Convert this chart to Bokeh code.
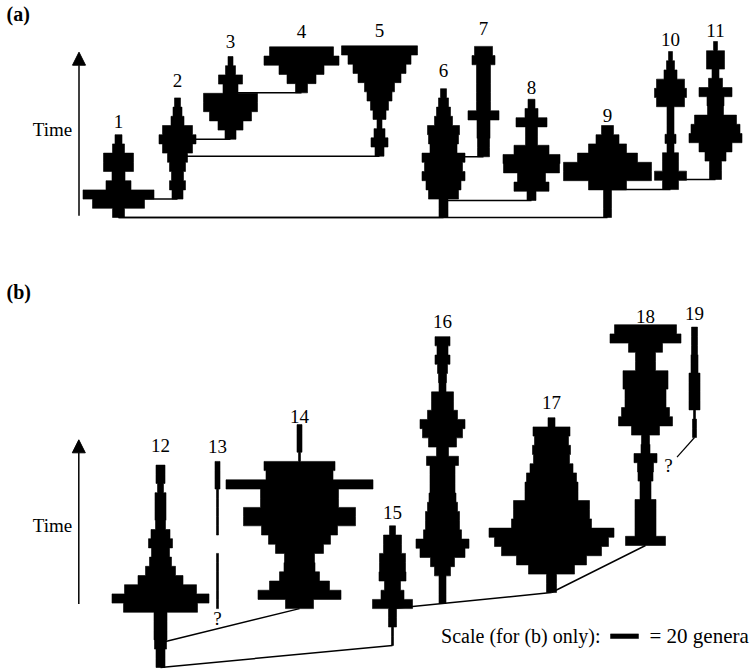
from bokeh.plotting import figure
from bokeh.layouts import column
from bokeh.models import Range1d, Arrow, NormalHead
from bokeh.core.properties import value
from bokeh.embed import file_html
from bokeh.resources import INLINE

FONT = value("Liberation Serif")

# ---------------- Panel (a): clade widths per time step (oldest -> youngest) -------------
clade_1 = [12, 52, 71, 25, 13, 30, 30, 12, 7]
clade_2 = [11, 16, 12, 16, 20, 30, 37, 30, 13, 9, 6]
clade_3 = [11, 25, 42, 54, 54, 15, 24, 10, 5]
clade_4 = [12, 29, 45, 75, 64]
clade_5 = [9, 17, 11, 5, 13, 18, 25, 30, 43, 53, 63, 76]
clade_6 = [9, 9, 30, 35, 43, 38, 43, 27, 30, 32, 18, 14, 10, 6]
clade_7 = [12, 12, 13, 13, 31, 14, 14, 14, 14, 14, 23, 18]
clade_8 = [9, 35, 28, 56, 57, 35, 12, 12, 31, 13, 7]
clade_9 = [8, 8, 8, 38, 88, 88, 60, 38, 23, 12]
clade_10 = [16, 32, 16, 16, 7, 11, 7, 7, 7, 28, 32, 28, 13, 8, 4]
clade_11 = [12, 12, 21, 33, 53, 49, 42, 16, 17, 33, 14, 7, 18, 18, 4]

a_names = ["1", "2", "3", "4", "5", "6", "7", "8", "9", "10", "11"]
a_widths = [clade_1, clade_2, clade_3, clade_4, clade_5, clade_6,
            clade_7, clade_8, clade_9, clade_10, clade_11]
a_start = [0, 2.0, 8.5, 13.55, 6.66, 0, 6.6, 1.85, 0, 3.04, 4.13]
# layout: horizontal position of each spindle and gap of its label above the top
a_x = [118, 177, 230, 301, 379, 443, 483, 531, 607, 670, 715]
a_label_gap = [1.4, 1.85, 1.65, 1.65, 1.65, 1.95, 1.95, 1.3, 1.1, 1.3, 1.2]
# branching: (parent, child); drawn at the child's origin time
a_links = [("1", "6"), ("1", "9"), ("1", "2"), ("2", "3"), ("2", "5"), ("3", "4"),
           ("6", "7"), ("6", "8"), ("9", "10"), ("10", "11")]

# ---------------- Panel (b): widths in genera-scale units -------------------------------
clade_12 = [9, 9, 12, 13, 13, 13, 74, 97, 72, 45, 30, 22, 18, 24, 19, 10, 11, 11, 11, 6, 9, 9]
clade_13 = [2, 2, 2, 2, 2, 2, 0, 0, 2, 2, 2, 2, 2, 5, 5, 5]
clade_14 = [28, 83, 60, 40, 31, 30, 48, 62, 76, 112, 112, 78, 78, 147, 67, 71, 2, 5, 5, 5]
clade_15 = [2, 2, 8, 8, 40, 23, 16, 27, 26, 26, 18, 18, 6]
clade_16 = [7, 7, 7, 16, 24, 45, 53, 38, 34, 34, 30, 27, 25, 25, 25, 32, 12, 28, 40, 45,
            30, 22, 22, 7, 8, 10, 15, 11, 15]
clade_17 = [10, 10, 46, 70, 100, 114, 125, 80, 76, 76, 53, 53, 50, 43, 36, 38, 34, 37, 7]
clade_18 = [40, 21, 21, 21, 21, 11, 11, 15, 16, 23, 9, 8, 28, 54, 48, 41, 41, 45, 45, 20,
            20, 34, 71, 62]
clade_19 = [4, 4, 2, 11, 11, 11, 11, 7, 7, 6, 6, 6]

b_names = ["12", "13", "14", "15", "16", "17", "18", "19"]
b_widths = [clade_12, clade_13, clade_14, clade_15, clade_16, clade_17, clade_18, clade_19]
b_start = [0, 6.4, 6.4, 2.4, 6.96, 8.15, 13.26, 25.0]
b_x = [160, 217, 299, 392, 442, 551, 645, 694]
b_label_gap = [2.15, 1.6, 0.85, 1.4, 1.6, 1.7, 0.85, 1.5]
# (parent, child, time on parent where the branch leaves)
b_links = [("12", "14", 2.7), ("12", "15", 0.0), ("15", "17", 6.4), ("17", "18", 8.15)]
scale_genera = 20
scale_len = 28


def spindle_patches(starts, centers, widths):
    xs, ys = [], []
    for s, c, ws in zip(starts, centers, widths):
        runs, cur = [], []
        for i, w in enumerate(ws):
            if w > 0:
                cur.append(i)
            elif cur:
                runs.append(cur)
                cur = []
        if cur:
            runs.append(cur)
        for run in runs:
            px, py = [], []
            for i in run:
                px += [c + ws[i] / 2, c + ws[i] / 2]
                py += [s + i, s + i + 1]
            for i in reversed(run):
                px += [c - ws[i] / 2, c - ws[i] / 2]
                py += [s + i + 1, s + i]
            xs.append(px)
            ys.append(py)
    return xs, ys


def make_fig(h, yr):
    p = figure(width=754, height=h, x_range=Range1d(0, 754), y_range=yr,
               x_axis_type=None, y_axis_type=None, output_backend="svg",
               toolbar_location=None, min_border=0)
    p.outline_line_color = None
    p.grid.visible = False
    p.background_fill_color = "white"
    p.border_fill_color = "white"
    return p


# ---------------- figure (a) ----------------
pa = make_fig(250, Range1d(-3.587, 23.587))
ia = {n: i for i, n in enumerate(a_names)}
pa.segment(x0=[a_x[ia[p]] for p, c in a_links], x1=[a_x[ia[c]] for p, c in a_links],
           y0=[a_start[ia[c]] for p, c in a_links], y1=[a_start[ia[c]] for p, c in a_links],
           line_color="black", line_width=1.5)
xs, ys = spindle_patches(a_start, a_x, a_widths)
pa.patches(xs=xs, ys=ys, fill_color="black", line_color="black", line_width=0.6)
pa.text(x=a_x, y=[s + len(w) + g for s, w, g in zip(a_start, a_widths, a_label_gap)],
        text=a_names, text_font=FONT, text_font_size="19px", text_align="center",
        text_baseline="alphabetic", text_color="black")
pa.add_layout(Arrow(end=NormalHead(size=13, fill_color="black", line_color="black"),
                    x_start=78.5, y_start=0.2, x_end=78.5, y_end=17.97,
                    line_width=1.5, line_color="black"))
pa.text(x=[52], y=[9.6], text=["Time"], text_font=FONT, text_font_size="19px",
        text_align="center", text_baseline="middle", text_color="black")
pa.text(x=[6], y=[23.3], text=["(a)"], text_font=FONT, text_font_size="20px",
        text_font_style="bold", text_align="left", text_baseline="top", text_color="black")

# ---------------- figure (b) ----------------
pb = make_fig(420, Range1d(-0.326, 45.326))
ib = {n: i for i, n in enumerate(b_names)}
pb.segment(x0=[b_x[ib[p]] for p, c, t in b_links], x1=[b_x[ib[c]] for p, c, t in b_links],
           y0=[t for p, c, t in b_links], y1=[b_start[ib[c]] for p, c, t in b_links],
           line_color="black", line_width=1.5)
# uncertain origin of clade 19
pb.segment(x0=[b_x[ib["19"]]], x1=[676.5], y0=[b_start[ib["19"]]], y1=[22.86],
           line_color="black", line_width=1.2)
xs, ys = spindle_patches(b_start, b_x, b_widths)
pb.patches(xs=xs, ys=ys, fill_color="black", line_color="black", line_width=0.6)
pb.text(x=b_x, y=[s + len(w) + g for s, w, g in zip(b_start, b_widths, b_label_gap)],
        text=b_names, text_font=FONT, text_font_size="19px", text_align="center",
        text_baseline="alphabetic", text_color="black")
pb.text(x=[217, 668], y=[5.33, 21.96], text=["?", "?"], text_font=FONT,
        text_font_size="19px", text_align="center", text_baseline="middle",
        text_color="black")
pb.add_layout(Arrow(end=NormalHead(size=13, fill_color="black", line_color="black"),
                    x_start=78.3, y_start=6.9, x_end=78.3, y_end=24.75,
                    line_width=1.5, line_color="black"))
pb.text(x=[52], y=[15.43], text=["Time"], text_font=FONT, text_font_size="19px",
        text_align="center", text_baseline="middle", text_color="black")
pb.text(x=[6], y=[42.0], text=["(b)"], text_font=FONT, text_font_size="20px",
        text_font_style="bold", text_align="left", text_baseline="top", text_color="black")
# scale bar
pb.quad(left=[610], right=[610 + scale_len], bottom=[3.15], top=[3.65],
        fill_color="black", line_color="black", line_width=0.5)
pb.text(x=[600], y=[3.4], text=["Scale (for (b) only):"], text_font=FONT,
        text_font_size="20px", text_align="right", text_baseline="middle", text_color="black")
pb.text(x=[649], y=[3.4], text=["= %d genera" % scale_genera], text_font=FONT,
        text_font_size="21px", text_align="left", text_baseline="middle", text_color="black")

layout = column(pa, pb, spacing=0)
open("out.html", "w").write(file_html(layout, INLINE))
